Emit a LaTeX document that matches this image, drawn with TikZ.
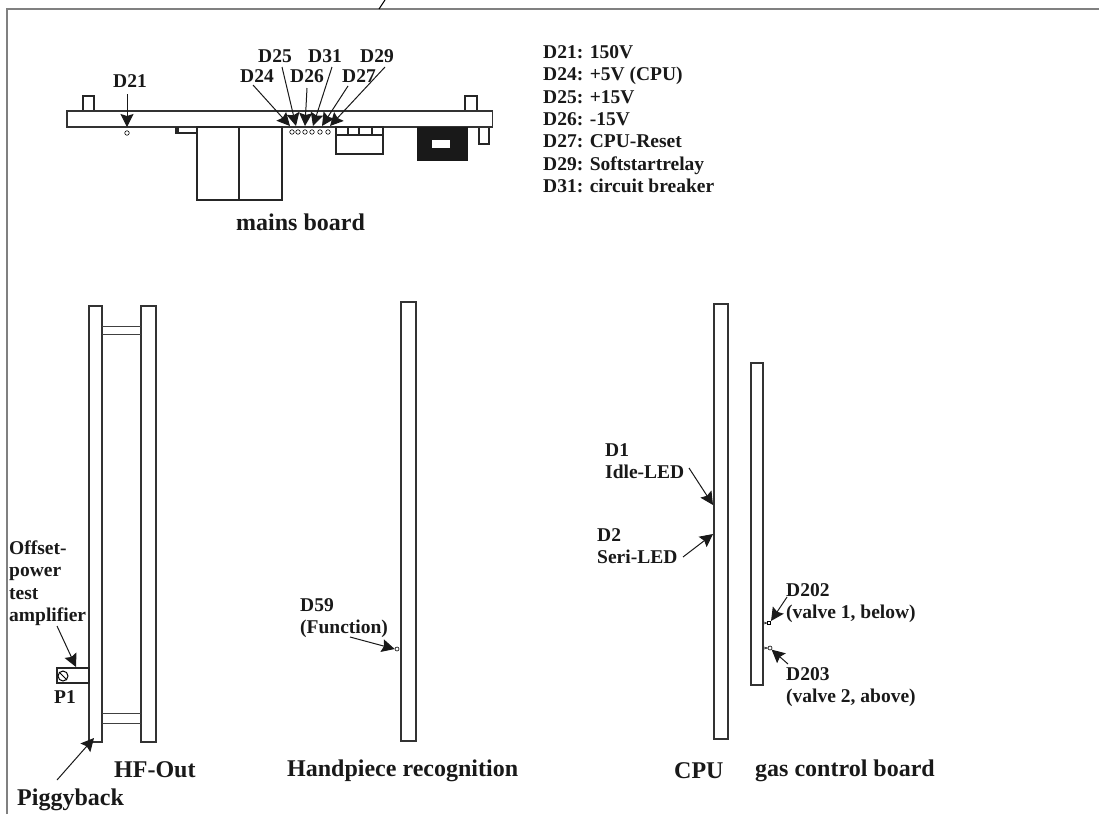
\documentclass[tikz,border=0pt]{standalone}
\usepackage{fontspec}
\setmainfont{Liberation Serif}
\usetikzlibrary{arrows.meta}
\tikzset{
  x=1pt,y=-1pt,
  board/.style={draw=black!80,line width=1.5pt,fill=white},
  part/.style={draw=black!85,line width=1.2pt},
  thin part/.style={draw=black!75,line width=.9pt},
  led/.style={circle,draw=black,line width=.6pt,inner sep=0pt,minimum size=4.5pt,fill=white},
  pointer/.style={draw=black!90,line width=1pt,-{Stealth[length=13pt,width=13pt,inset=2pt]}},
  lab/.style={font=\fontsize{19.5}{22.3}\selectfont\bfseries,inner sep=0pt,anchor=base west,text=black!90},
  blockl/.style={lab,align=left,anchor=north west},
  bigl/.style={font=\fontsize{24}{26}\selectfont\bfseries,inner sep=0pt,anchor=base west,text=black!90},
  frameline/.style={draw=black!50,line width=1.6pt}
}
\begin{document}
\begin{tikzpicture}
\useasboundingbox (0,0) rectangle (1099,814);
\coordinate (f1) at (7,814); \coordinate (f2) at (7,9); \coordinate (f3) at (1099,9);
\draw[frameline] (f1) -- (f2) -- (f3);
\coordinate (s1) at (385,0); \coordinate (s2) at (379,9);
\draw[draw=black,line width=1pt] (s1) -- (s2);
% mains board
\draw[part] (83,111) |- (94,96) -- (94,111);
\draw[part] (465,111) |- (477,96) -- (477,111);
\draw[part] (479,127) |- (489,144) -- (489,127);
\draw[board] (67,111) rectangle (492.5,127);
\fill[black!85] (175,127) rectangle (179,133);
\draw[part] (175,133) -- (197,133);
\draw[part] (197,127) rectangle (282,200);
\draw[part] (239,127) -- (239,200);
\draw[part] (336,127) rectangle (383,154);
\draw[part] (336,135) -- (383,135);
\draw[part] (348,127) -- (348,135) (359,127) -- (359,135) (372,127) -- (372,135);
\fill[black!90] (417,127) rectangle (468,161);
\fill[white] (432,140) rectangle (450,148);
\node[led] (d21) at (127,133) {};
\node[led] (d24) at (292,132) {};
\node[led] (d25) at (298,132) {};
\node[led] (d26) at (305,132) {};
\node[led] (d31) at (312,132) {};
\node[led] (d27) at (320,132) {};
\node[led] (d29) at (328,132) {};
\node[lab] (l21) at (113,87) {D21};
\node[lab] (l24) at (240,82) {D24};
\node[lab] (l25) at (258,62) {D25};
\node[lab] (l26) at (290,82) {D26};
\node[lab] (l31) at (308,62) {D31};
\node[lab] (l27) at (342,82) {D27};
\node[lab] (l29) at (360,62) {D29};
\coordinate (a21) at (127,94); \coordinate (a24) at (253,85); \coordinate (a25) at (282,67);
\coordinate (a26) at (307,88); \coordinate (a31) at (332,67); \coordinate (a27) at (348,86); \coordinate (a29) at (385,67);
\coordinate (t21) at (127,127); \coordinate (t24) at (290,126); \coordinate (t25) at (296,126);
\coordinate (t26) at (305,126); \coordinate (t31) at (313,126); \coordinate (t27) at (322,126); \coordinate (t29) at (330,126);
\foreach \a/\b in {a21/t21,a24/t24,a25/t25,a26/t26,a31/t31,a27/t27,a29/t29} \draw[pointer] (\a) -- (\b);
\node[bigl] (mains) at (236,230) {mains board};
\node[blockl] (legend) at (543,45.5) {D21: 150V\\D24: +5V (CPU)\\D25: +15V\\D26: -15V\\D27: CPU-Reset\\D29: Softstartrelay\\D31: circuit breaker};
% HF-Out
\draw[board] (89,306) rectangle (102,742);
\draw[board] (141,306) rectangle (156,742);
\draw[thin part] (102,326) -- (141,326) (102,334) -- (141,334) (102,713) -- (141,713) (102,723) -- (141,723);
\draw[part] (57,668) rectangle (89,683);
\node[circle,draw=black,line width=1pt,minimum size=10pt,inner sep=0pt] (p1c) at (63,676) {};
\draw[line width=1pt] (p1c.north west) -- (p1c.south east);
\coordinate (pa) at (57,626); \coordinate (pb) at (76,667);
\draw[pointer] (pa) -- (pb);
\coordinate (ga) at (57,780); \coordinate (gb) at (94,738);
\draw[pointer] (ga) -- (gb);
\node[blockl] (off) at (9,540.5) {Offset-\\power\\test\\amplifier};
\node[lab] (p1) at (54,703) {P1};
\node[bigl] (hf) at (114,777) {HF-Out};
\node[bigl] (pig) at (17,805.5) {Piggyback};
% handpiece
\draw[board] (401,302) rectangle (416,741);
\node[led,minimum size=4pt] (d59) at (397,649) {};
\node[blockl] (l59) at (300,598.5) {D59\\(Function)};
\coordinate (h1) at (350,637);
\draw[pointer] (h1) -- (d59.west);
\node[bigl] (hr) at (287,776) {Handpiece recognition};
% CPU
\draw[board] (714,304) rectangle (728,739);
\draw[board] (751,363) rectangle (763,685);
\node[blockl] (l1) at (605,443.5) {D1\\Idle-LED};
\node[blockl] (l2) at (597,528.5) {D2\\Seri-LED};
\coordinate (c1) at (689,468); \coordinate (c1t) at (713,505);
\coordinate (c2) at (683,557); \coordinate (c2t) at (713,534);
\draw[pointer] (c1) -- (c1t);
\draw[pointer] (c2) -- (c2t);
\node[led,rectangle,minimum size=3.5pt] (d202) at (769,623) {};
\node[led,minimum size=4pt] (d203) at (770,648) {};
\draw[line width=.5pt] (764,622) -- (d202.west) (764,624) -- (d202.west);
\draw[line width=.5pt] (764,647) -- (d203.west) (764,649) -- (d203.west);
\coordinate (g1) at (787,597); \coordinate (g2) at (788,664);
\draw[pointer] (g1) -- (d202.north east);
\draw[pointer] (g2) -- (d203.south east);
\node[blockl] (l202) at (786,583.5) {D202\\(valve 1, below)};
\node[blockl] (l203) at (786,667.5) {D203\\(valve 2, above)};
\node[bigl] (cpu) at (674,778) {CPU};
\node[bigl] (gas) at (755,776) {gas control board};
\end{tikzpicture}
\end{document}
